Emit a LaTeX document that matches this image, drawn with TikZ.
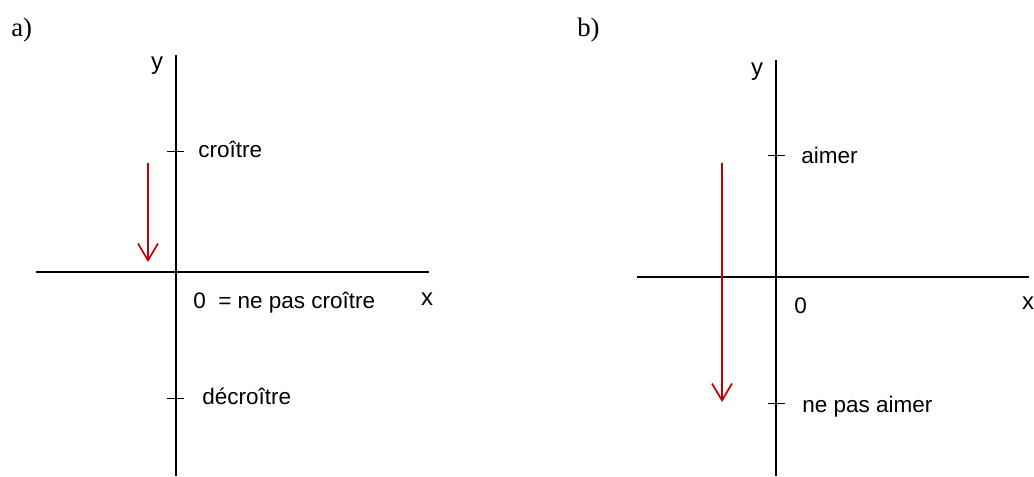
\documentclass[tikz,border=0pt]{standalone}
\usepackage{fontspec}
\setmainfont{Liberation Serif}
\newfontfamily\arialfont{Liberation Sans}
\usetikzlibrary{arrows.meta}
\definecolor{arrowred}{RGB}{192,0,0}

\begin{document}
\begin{tikzpicture}[x=0.025cm, y=-0.025cm,
  axis/.style={line width=0.8pt, black},
  tickmark/.style={line width=0.7pt, black},
  lbl/.style={font=\arialfont\fontsize{16}{19}\selectfont, inner sep=0pt, anchor=base west},
  axlbl/.style={font=\arialfont\fontsize{17}{20}\selectfont, inner sep=0pt, anchor=base},
  part/.style={font=\fontsize{19}{22}\selectfont, inner sep=0pt, anchor=base west},
  move/.style={line width=1.2pt, arrowred, -{Straight Barb[length=4.2mm, width=5mm, line width=1.2pt]}}]

\useasboundingbox (0,0) rectangle (1034,476);

% part a)
\node[part] (pa) at (11,36) {a)};

% axes a
\coordinate (ayt) at (176,55);
\coordinate (ayb) at (176,476);
\coordinate (axl) at (36,272);
\coordinate (axr) at (429,272);
\draw[axis] (ayt) -- (ayb);
\draw[axis] (axl) -- (axr);
\node[axlbl] (ay) at (157,69) {y};
\node[axlbl] (ax) at (427,305) {x};

% ticks a
\coordinate (at1l) at (167,151);
\coordinate (at1r) at (184,151);
\coordinate (at2l) at (167,398);
\coordinate (at2r) at (184,398);
\draw[tickmark] (at1l) -- (at1r);
\draw[tickmark] (at2l) -- (at2r);
\node[lbl] (acroit) at (198,157) {croître};
\node[lbl] (azero) at (193,308) {0 \ = ne pas croître};
\node[lbl] (adecroit) at (202,404) {décroître};

% red arrow a
\coordinate (aas) at (148,163);
\coordinate (aae) at (148,262);
\draw[move] (aas) -- (aae);

% part b)
\node[part] (pb) at (577,36) {b)};

% axes b
\coordinate (byt) at (776,60);
\coordinate (byb) at (776,476);
\coordinate (bxl) at (637,277);
\coordinate (bxr) at (1029,277);
\draw[axis] (byt) -- (byb);
\draw[axis] (bxl) -- (bxr);
\node[axlbl] (by) at (757,75) {y};
\node[axlbl] (bx) at (1028,309) {x};

% ticks b
\coordinate (bt1l) at (768,155);
\coordinate (bt1r) at (785,155);
\coordinate (bt2l) at (768,403);
\coordinate (bt2r) at (785,403);
\draw[tickmark] (bt1l) -- (bt1r);
\draw[tickmark] (bt2l) -- (bt2r);
\node[lbl] (baimer) at (801,163) {aimer};
\node[lbl] (bzero) at (794,313) {0};
\node[lbl] (bnaimer) at (802,412) {ne pas aimer};

% red arrow b
\coordinate (bas) at (722,163);
\coordinate (bae) at (722,402);
\draw[move] (bas) -- (bae);

\end{tikzpicture}
\end{document}
